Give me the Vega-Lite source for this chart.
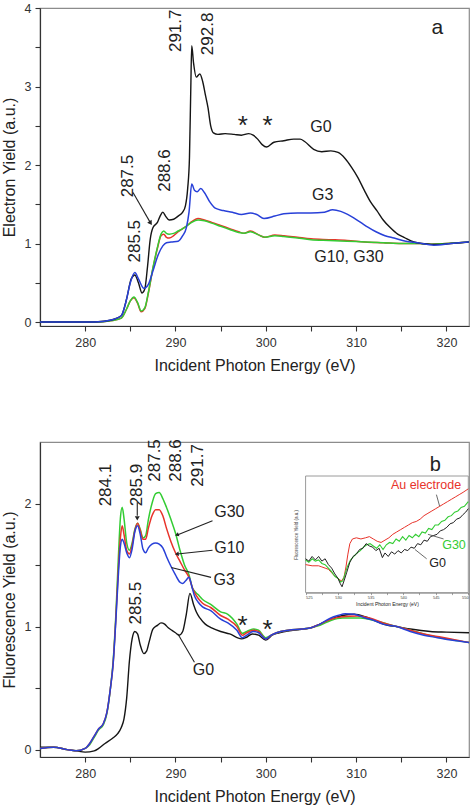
{
  "$schema": "https://vega.github.io/schema/vega-lite/v6.json",
  "background": "white",
  "padding": {"left": 0, "top": 1, "right": 3, "bottom": 2},
  "spacing": 63,
  "config": {
    "view": {"stroke": "#8c8c8c", "strokeWidth": 1.2},
    "text": {"font": "Liberation Sans", "color": "#222"},
    "axis": {
      "domainColor": "#333", "tickColor": "#333", "labelColor": "#333", "titleColor": "#222",
      "labelFont": "Liberation Sans", "titleFont": "Liberation Sans",
      "labelFontSize": 12.5, "titleFontSize": 16, "titleFontWeight": "normal",
      "grid": false, "tickSize": 5, "domainWidth": 1.2, "tickWidth": 1.1
    }
  },
  "datasets": {
    "top_g0": [{"E":275,"y":0},{"E":279,"y":0},{"E":281,"y":0.0},{"E":282,"y":0.01},{"E":283,"y":0.03},{"E":284,"y":0.08},{"E":284.6,"y":0.3},{"E":285.1,"y":0.55},{"E":285.5,"y":0.6},{"E":285.9,"y":0.5},{"E":286.3,"y":0.37},{"E":286.6,"y":0.42},{"E":286.9,"y":0.7},{"E":287.2,"y":1.05},{"E":287.5,"y":1.2},{"E":288.0,"y":1.27},{"E":288.3,"y":1.35},{"E":288.6,"y":1.4},{"E":288.9,"y":1.35},{"E":289.3,"y":1.3},{"E":289.8,"y":1.31},{"E":290.3,"y":1.35},{"E":290.8,"y":1.4},{"E":291.1,"y":1.48},{"E":291.35,"y":1.7},{"E":291.55,"y":2.1},{"E":291.7,"y":3.0},{"E":291.8,"y":3.52},{"E":292.0,"y":3.3},{"E":292.3,"y":3.12},{"E":292.7,"y":3.16},{"E":293.0,"y":3.07},{"E":293.3,"y":2.9},{"E":293.6,"y":2.73},{"E":293.9,"y":2.5},{"E":294.2,"y":2.41},{"E":294.7,"y":2.39},{"E":295.5,"y":2.4},{"E":296.5,"y":2.39},{"E":297.3,"y":2.38},{"E":298.1,"y":2.4},{"E":298.6,"y":2.38},{"E":299.1,"y":2.33},{"E":299.6,"y":2.26},{"E":300.1,"y":2.23},{"E":300.9,"y":2.29},{"E":302,"y":2.31},{"E":303.1,"y":2.33},{"E":303.8,"y":2.33},{"E":304.3,"y":2.3},{"E":305.3,"y":2.2},{"E":306.2,"y":2.17},{"E":307.2,"y":2.18},{"E":308.0,"y":2.16},{"E":308.8,"y":2.08},{"E":309.5,"y":1.97},{"E":310.2,"y":1.84},{"E":310.9,"y":1.68},{"E":311.6,"y":1.53},{"E":312.3,"y":1.42},{"E":313.0,"y":1.3},{"E":313.8,"y":1.2},{"E":314.6,"y":1.12},{"E":315.3,"y":1.08},{"E":316.4,"y":1.02},{"E":317.3,"y":1.0},{"E":318.3,"y":0.99},{"E":319.3,"y":0.99},{"E":320.5,"y":1.0},{"E":321.5,"y":1.01},{"E":322.5,"y":1.02}],
    "top_g3": [{"E":275,"y":0},{"E":281,"y":0},{"E":283,"y":0.03},{"E":284,"y":0.08},{"E":284.5,"y":0.25},{"E":285.0,"y":0.5},{"E":285.5,"y":0.63},{"E":285.9,"y":0.55},{"E":286.5,"y":0.43},{"E":287.0,"y":0.48},{"E":287.5,"y":0.65},{"E":288.1,"y":0.86},{"E":288.6,"y":0.97},{"E":289.0,"y":1.01},{"E":289.5,"y":1.02},{"E":290.3,"y":1.03},{"E":290.8,"y":1.1},{"E":291.2,"y":1.2},{"E":291.5,"y":1.4},{"E":291.8,"y":1.76},{"E":292.1,"y":1.68},{"E":292.4,"y":1.66},{"E":292.8,"y":1.7},{"E":293.2,"y":1.65},{"E":293.8,"y":1.53},{"E":294.4,"y":1.45},{"E":295.3,"y":1.42},{"E":296.3,"y":1.4},{"E":297.3,"y":1.37},{"E":298.3,"y":1.39},{"E":299.0,"y":1.37},{"E":299.8,"y":1.32},{"E":301,"y":1.35},{"E":302,"y":1.38},{"E":303.5,"y":1.39},{"E":305,"y":1.39},{"E":306.5,"y":1.4},{"E":307.4,"y":1.43},{"E":308.3,"y":1.41},{"E":309.4,"y":1.35},{"E":310.5,"y":1.27},{"E":311.3,"y":1.21},{"E":312.2,"y":1.15},{"E":313.2,"y":1.1},{"E":314.2,"y":1.07},{"E":315.5,"y":1.03},{"E":316.8,"y":1.01},{"E":318.6,"y":0.98},{"E":320.5,"y":1.0},{"E":322.5,"y":1.02}],
    "top_g10": [{"E":275,"y":0},{"E":281,"y":0},{"E":283,"y":0.02},{"E":284,"y":0.05},{"E":284.6,"y":0.17},{"E":285.0,"y":0.27},{"E":285.4,"y":0.31},{"E":285.8,"y":0.24},{"E":286.2,"y":0.13},{"E":286.6,"y":0.17},{"E":287.0,"y":0.37},{"E":287.5,"y":0.68},{"E":288.0,"y":0.94},{"E":288.4,"y":1.1},{"E":288.7,"y":1.12},{"E":289.0,"y":1.08},{"E":289.3,"y":1.07},{"E":289.8,"y":1.1},{"E":290.3,"y":1.15},{"E":290.8,"y":1.19},{"E":291.3,"y":1.23},{"E":291.8,"y":1.28},{"E":292.5,"y":1.32},{"E":293.2,"y":1.3},{"E":294,"y":1.27},{"E":295,"y":1.23},{"E":296,"y":1.19},{"E":297,"y":1.15},{"E":297.6,"y":1.13},{"E":298.3,"y":1.16},{"E":299.2,"y":1.11},{"E":299.9,"y":1.08},{"E":301,"y":1.11},{"E":302,"y":1.1},{"E":303.5,"y":1.08},{"E":305,"y":1.06},{"E":307,"y":1.05},{"E":309,"y":1.04},{"E":311,"y":1.02},{"E":313,"y":1.01},{"E":315,"y":1.0},{"E":317,"y":1.0},{"E":318.5,"y":0.99},{"E":320,"y":1.0},{"E":322.5,"y":1.02}],
    "top_g30": [{"E":275,"y":0},{"E":281,"y":0},{"E":283,"y":0.02},{"E":284,"y":0.05},{"E":284.6,"y":0.17},{"E":285.0,"y":0.27},{"E":285.4,"y":0.32},{"E":285.8,"y":0.25},{"E":286.2,"y":0.14},{"E":286.6,"y":0.18},{"E":287.0,"y":0.38},{"E":287.5,"y":0.69},{"E":288.0,"y":0.95},{"E":288.4,"y":1.12},{"E":288.7,"y":1.16},{"E":289.0,"y":1.13},{"E":289.3,"y":1.12},{"E":289.8,"y":1.13},{"E":290.3,"y":1.16},{"E":290.8,"y":1.19},{"E":291.3,"y":1.23},{"E":291.8,"y":1.27},{"E":292.5,"y":1.3},{"E":293.2,"y":1.29},{"E":294,"y":1.26},{"E":295,"y":1.22},{"E":296,"y":1.18},{"E":297,"y":1.14},{"E":297.6,"y":1.13},{"E":298.3,"y":1.15},{"E":299.2,"y":1.11},{"E":299.9,"y":1.08},{"E":301,"y":1.1},{"E":302,"y":1.09},{"E":303.5,"y":1.07},{"E":305,"y":1.05},{"E":307,"y":1.04},{"E":309,"y":1.03},{"E":311,"y":1.02},{"E":313,"y":1.01},{"E":315,"y":1.0},{"E":317,"y":1.0},{"E":318.5,"y":0.99},{"E":320,"y":1.0},{"E":322.5,"y":1.02}],
    "top_nums": [{"E":290.08,"y":3.71,"t":"291.7"},{"E":293.65,"y":3.67,"t":"292.8"},{"E":284.75,"y":1.86,"t":"287.5"},{"E":288.8,"y":1.93,"t":"288.6"},{"E":285.49,"y":1.03,"t":"285.5"}],
    "top_labels": [{"E":306.1,"y":2.49,"t":"G0"},{"E":306.3,"y":1.62,"t":"G3"},{"E":309.2,"y":0.83,"t":"G10, G30"}],
    "top_a": [{"E":319.0,"y":3.75,"t":"a"}],
    "top_stars": [{"E":297.45,"y":2.59,"t":"*"},{"E":300.2,"y":2.59,"t":"*"}],
    "top_arrow": [{"E":285.3,"y":1.65,"E2":287.2,"y2":1.27}],
    "top_head": [{"E":287.25,"y":1.26}],
    "bot_g0": [{"E":275,"y":0.02},{"E":276.5,"y":0.02},{"E":278,"y":0.0},{"E":279,"y":-0.01},{"E":280,"y":-0.02},{"E":281,"y":-0.01},{"E":281.5,"y":0.01},{"E":282.2,"y":0.05},{"E":283,"y":0.09},{"E":283.6,"y":0.13},{"E":284.0,"y":0.18},{"E":284.3,"y":0.25},{"E":284.6,"y":0.42},{"E":284.9,"y":0.72},{"E":285.2,"y":0.9},{"E":285.5,"y":0.96},{"E":285.8,"y":0.94},{"E":286.1,"y":0.85},{"E":286.5,"y":0.78},{"E":286.8,"y":0.8},{"E":287.1,"y":0.88},{"E":287.5,"y":0.98},{"E":288.0,"y":1.01},{"E":288.4,"y":1.03},{"E":288.8,"y":1.02},{"E":289.2,"y":0.99},{"E":289.6,"y":0.97},{"E":290.0,"y":0.95},{"E":290.4,"y":0.93},{"E":290.8,"y":0.96},{"E":291.2,"y":1.1},{"E":291.6,"y":1.27},{"E":292.0,"y":1.18},{"E":292.3,"y":1.12},{"E":292.7,"y":1.07},{"E":293.3,"y":1.02},{"E":294,"y":0.99},{"E":295,"y":0.96},{"E":296,"y":0.94},{"E":297.3,"y":0.9},{"E":297.8,"y":0.91},{"E":298.5,"y":0.94},{"E":299.2,"y":0.93},{"E":300,"y":0.89},{"E":300.7,"y":0.93},{"E":301.5,"y":0.95},{"E":303,"y":0.97},{"E":305,"y":0.99},{"E":306,"y":1.02},{"E":307.2,"y":1.06},{"E":308.5,"y":1.09},{"E":309.8,"y":1.1},{"E":311,"y":1.08},{"E":312.3,"y":1.04},{"E":313.5,"y":1.01},{"E":314.5,"y":1.0},{"E":316,"y":0.98},{"E":318.2,"y":0.96},{"E":320,"y":0.955},{"E":322.5,"y":0.95}],
    "bot_g3": [{"E":275,"y":0.01},{"E":276.5,"y":0.02},{"E":278,"y":0.0},{"E":279,"y":-0.01},{"E":280,"y":0.01},{"E":280.5,"y":0.05},{"E":281,"y":0.11},{"E":281.5,"y":0.17},{"E":282,"y":0.21},{"E":282.4,"y":0.3},{"E":282.8,"y":0.5},{"E":283.1,"y":0.7},{"E":283.4,"y":1.05},{"E":283.7,"y":1.45},{"E":283.9,"y":1.65},{"E":284.1,"y":1.71},{"E":284.3,"y":1.68},{"E":284.6,"y":1.6},{"E":284.9,"y":1.56},{"E":285.2,"y":1.63},{"E":285.5,"y":1.77},{"E":285.8,"y":1.82},{"E":286.1,"y":1.75},{"E":286.4,"y":1.63},{"E":286.7,"y":1.6},{"E":287.0,"y":1.64},{"E":287.4,"y":1.67},{"E":287.8,"y":1.68},{"E":288.2,"y":1.67},{"E":288.6,"y":1.64},{"E":289.0,"y":1.57},{"E":289.5,"y":1.49},{"E":290.0,"y":1.42},{"E":290.5,"y":1.36},{"E":290.8,"y":1.35},{"E":291.1,"y":1.37},{"E":291.5,"y":1.4},{"E":291.8,"y":1.33},{"E":292.1,"y":1.25},{"E":292.5,"y":1.2},{"E":293.0,"y":1.16},{"E":293.9,"y":1.13},{"E":295.0,"y":1.06},{"E":295.8,"y":1.03},{"E":296.8,"y":0.97},{"E":297.4,"y":0.91},{"E":297.9,"y":0.93},{"E":298.6,"y":0.96},{"E":299.2,"y":0.95},{"E":300.0,"y":0.9},{"E":300.6,"y":0.93},{"E":301.2,"y":0.95},{"E":302.5,"y":0.97},{"E":304,"y":0.98},{"E":305,"y":0.99},{"E":306,"y":1.02},{"E":307.2,"y":1.07},{"E":308,"y":1.09},{"E":308.8,"y":1.105},{"E":309.8,"y":1.1},{"E":311,"y":1.07},{"E":312,"y":1.05},{"E":313,"y":1.02},{"E":314.5,"y":1.0},{"E":316,"y":0.96},{"E":317.5,"y":0.93},{"E":319,"y":0.91},{"E":320.5,"y":0.89},{"E":322.5,"y":0.87}],
    "bot_g10": [{"E":275,"y":0.01},{"E":276.5,"y":0.02},{"E":278,"y":0.0},{"E":279,"y":-0.01},{"E":280,"y":0.01},{"E":280.5,"y":0.05},{"E":281,"y":0.11},{"E":281.5,"y":0.17},{"E":282,"y":0.21},{"E":282.4,"y":0.3},{"E":282.8,"y":0.5},{"E":283.1,"y":0.7},{"E":283.4,"y":1.07},{"E":283.7,"y":1.5},{"E":283.9,"y":1.72},{"E":284.1,"y":1.82},{"E":284.3,"y":1.75},{"E":284.6,"y":1.62},{"E":284.9,"y":1.59},{"E":285.2,"y":1.66},{"E":285.5,"y":1.78},{"E":285.8,"y":1.84},{"E":286.1,"y":1.78},{"E":286.4,"y":1.71},{"E":286.7,"y":1.71},{"E":287.0,"y":1.8},{"E":287.4,"y":1.9},{"E":287.8,"y":1.95},{"E":288.2,"y":1.95},{"E":288.6,"y":1.9},{"E":289.0,"y":1.8},{"E":289.5,"y":1.69},{"E":290.0,"y":1.6},{"E":290.5,"y":1.53},{"E":291.0,"y":1.46},{"E":291.5,"y":1.4},{"E":291.9,"y":1.31},{"E":292.5,"y":1.23},{"E":293.0,"y":1.19},{"E":293.9,"y":1.155},{"E":295.0,"y":1.09},{"E":295.8,"y":1.06},{"E":296.8,"y":1.0},{"E":297.4,"y":0.93},{"E":297.9,"y":0.95},{"E":298.6,"y":0.97},{"E":299.2,"y":0.96},{"E":300.0,"y":0.9},{"E":300.6,"y":0.93},{"E":301.2,"y":0.95},{"E":302.5,"y":0.97},{"E":304,"y":0.98},{"E":305,"y":0.99},{"E":306,"y":1.02},{"E":307.2,"y":1.06},{"E":308.5,"y":1.08},{"E":310.1,"y":1.085},{"E":311.5,"y":1.07},{"E":313,"y":1.03},{"E":314.5,"y":1.0},{"E":316,"y":0.97},{"E":317.5,"y":0.94},{"E":319,"y":0.92},{"E":320.5,"y":0.9},{"E":322.5,"y":0.87}],
    "bot_g30": [{"E":275,"y":0.01},{"E":276.5,"y":0.02},{"E":278,"y":0.0},{"E":279,"y":-0.01},{"E":280,"y":0.01},{"E":280.5,"y":0.04},{"E":281,"y":0.1},{"E":281.5,"y":0.16},{"E":282,"y":0.2},{"E":282.4,"y":0.29},{"E":282.8,"y":0.5},{"E":283.1,"y":0.72},{"E":283.4,"y":1.1},{"E":283.7,"y":1.6},{"E":283.9,"y":1.88},{"E":284.1,"y":1.97},{"E":284.3,"y":1.88},{"E":284.6,"y":1.68},{"E":284.9,"y":1.62},{"E":285.2,"y":1.68},{"E":285.5,"y":1.79},{"E":285.8,"y":1.84},{"E":286.1,"y":1.79},{"E":286.4,"y":1.72},{"E":286.7,"y":1.74},{"E":287.0,"y":1.87},{"E":287.4,"y":2.0},{"E":287.8,"y":2.08},{"E":288.2,"y":2.09},{"E":288.6,"y":2.04},{"E":289.0,"y":1.97},{"E":289.5,"y":1.87},{"E":290.0,"y":1.76},{"E":290.5,"y":1.62},{"E":291.0,"y":1.5},{"E":291.5,"y":1.42},{"E":291.9,"y":1.31},{"E":292.5,"y":1.26},{"E":293.0,"y":1.22},{"E":293.9,"y":1.18},{"E":295.0,"y":1.12},{"E":295.8,"y":1.1},{"E":296.8,"y":1.02},{"E":297.4,"y":0.945},{"E":297.9,"y":0.96},{"E":298.6,"y":0.98},{"E":299.2,"y":0.97},{"E":300.0,"y":0.91},{"E":300.6,"y":0.93},{"E":301.2,"y":0.95},{"E":302.5,"y":0.97},{"E":304,"y":0.98},{"E":305,"y":0.99},{"E":306,"y":1.01},{"E":307.2,"y":1.05},{"E":308.5,"y":1.07},{"E":310.5,"y":1.07},{"E":312,"y":1.05},{"E":313.5,"y":1.02},{"E":315,"y":0.99},{"E":316.5,"y":0.96},{"E":318,"y":0.93},{"E":320,"y":0.9},{"E":322.5,"y":0.87}],
    "bot_nums": [{"E":282.35,"y":2.15,"t":"284.1"},{"E":285.77,"y":2.15,"t":"285.9"},{"E":287.69,"y":2.35,"t":"287.5"},{"E":290.08,"y":2.35,"t":"288.6"},{"E":292.47,"y":2.31,"t":"291.7"},{"E":285.66,"y":1.19,"t":"285.5"}],
    "bot_labels": [{"E":295.97,"y":1.93,"t":"G30"},{"E":295.97,"y":1.64,"t":"G10"},{"E":295.4,"y":1.38,"t":"G3"},{"E":293.1,"y":0.65,"t":"G0"}],
    "bot_stars": [{"E":297.44,"y":1.06,"t":"*"},{"E":300.2,"y":1.03,"t":"*"}],
    "bot_b": [{"E":318.77,"y":2.31,"t":"b"}],
    "bot_leaders": [{"E":294.1,"y":1.86,"E2":290.2,"y2":1.745},{"E":294.1,"y":1.62,"E2":290.2,"y2":1.59},{"E":293.94,"y":1.4,"E2":289.53,"y2":1.48},{"E":292.1,"y":0.71,"E2":290.27,"y2":0.94},{"E":285.77,"y":2.01,"E2":285.77,"y2":1.9}],
    "bot_head_down": [{"E":285.77,"y":1.88}],
    "bot_head_g30": [{"E":290.15,"y":1.745}],
    "bot_head_g10": [{"E":290.15,"y":1.59}],
    "inset_frame": [{"E":525,"E2":550,"y":0,"y2":1}],
    "inset_au": [{"E":525,"y":0.24},{"E":526,"y":0.23},{"E":527,"y":0.23},{"E":527.5,"y":0.22},{"E":528,"y":0.21},{"E":528.5,"y":0.2},{"E":529,"y":0.17},{"E":529.5,"y":0.14},{"E":530,"y":0.12},{"E":530.5,"y":0.1},{"E":530.9,"y":0.13},{"E":531.2,"y":0.22},{"E":531.5,"y":0.33},{"E":531.8,"y":0.42},{"E":532.2,"y":0.46},{"E":532.8,"y":0.47},{"E":533.5,"y":0.46},{"E":534.2,"y":0.47},{"E":534.8,"y":0.48},{"E":535.4,"y":0.46},{"E":536,"y":0.44},{"E":536.6,"y":0.43},{"E":537.2,"y":0.45},{"E":537.8,"y":0.47},{"E":538.4,"y":0.5},{"E":539,"y":0.52},{"E":539.6,"y":0.54},{"E":540.2,"y":0.56},{"E":540.8,"y":0.58},{"E":541.4,"y":0.6},{"E":542,"y":0.61},{"E":542.6,"y":0.63},{"E":543.2,"y":0.66},{"E":543.8,"y":0.68},{"E":544.4,"y":0.7},{"E":545,"y":0.72},{"E":545.6,"y":0.74},{"E":546.2,"y":0.76},{"E":546.8,"y":0.78},{"E":547.4,"y":0.8},{"E":548,"y":0.82},{"E":548.6,"y":0.84},{"E":549.2,"y":0.86},{"E":550,"y":0.89}],
    "inset_g30": [{"E":525,"y":0.28},{"E":525.5,"y":0.26},{"E":526,"y":0.29},{"E":526.5,"y":0.27},{"E":527,"y":0.28},{"E":527.5,"y":0.25},{"E":528,"y":0.24},{"E":528.5,"y":0.21},{"E":529,"y":0.18},{"E":529.5,"y":0.14},{"E":530,"y":0.12},{"E":530.4,"y":0.09},{"E":530.7,"y":0.1},{"E":531,"y":0.15},{"E":531.4,"y":0.22},{"E":531.9,"y":0.28},{"E":532.4,"y":0.31},{"E":532.9,"y":0.34},{"E":533.4,"y":0.36},{"E":533.9,"y":0.39},{"E":534.4,"y":0.41},{"E":534.9,"y":0.42},{"E":535.4,"y":0.4},{"E":535.9,"y":0.38},{"E":536.4,"y":0.41},{"E":536.9,"y":0.37},{"E":537.4,"y":0.41},{"E":537.9,"y":0.43},{"E":538.4,"y":0.42},{"E":538.9,"y":0.46},{"E":539.4,"y":0.44},{"E":539.9,"y":0.48},{"E":540.4,"y":0.45},{"E":540.9,"y":0.49},{"E":541.4,"y":0.47},{"E":541.9,"y":0.5},{"E":542.4,"y":0.48},{"E":542.9,"y":0.52},{"E":543.4,"y":0.51},{"E":543.9,"y":0.55},{"E":544.4,"y":0.54},{"E":544.9,"y":0.58},{"E":545.4,"y":0.58},{"E":545.9,"y":0.61},{"E":546.4,"y":0.62},{"E":546.9,"y":0.65},{"E":547.4,"y":0.66},{"E":547.9,"y":0.69},{"E":548.4,"y":0.7},{"E":548.9,"y":0.73},{"E":549.4,"y":0.74},{"E":550,"y":0.78}],
    "inset_g0": [{"E":525,"y":0.29},{"E":525.5,"y":0.27},{"E":526,"y":0.31},{"E":526.5,"y":0.28},{"E":527,"y":0.31},{"E":527.5,"y":0.27},{"E":528,"y":0.29},{"E":528.5,"y":0.24},{"E":529,"y":0.21},{"E":529.5,"y":0.16},{"E":530,"y":0.12},{"E":530.3,"y":0.08},{"E":530.6,"y":0.05},{"E":530.9,"y":0.1},{"E":531.3,"y":0.17},{"E":531.8,"y":0.26},{"E":532.3,"y":0.31},{"E":532.8,"y":0.33},{"E":533.3,"y":0.37},{"E":533.8,"y":0.38},{"E":534.3,"y":0.42},{"E":534.8,"y":0.4},{"E":535.3,"y":0.39},{"E":535.8,"y":0.36},{"E":536.3,"y":0.38},{"E":536.8,"y":0.3},{"E":537.2,"y":0.34},{"E":537.7,"y":0.31},{"E":538.2,"y":0.35},{"E":538.7,"y":0.33},{"E":539.2,"y":0.36},{"E":539.7,"y":0.34},{"E":540.2,"y":0.37},{"E":540.7,"y":0.36},{"E":541.2,"y":0.39},{"E":541.7,"y":0.38},{"E":542.2,"y":0.42},{"E":542.7,"y":0.41},{"E":543.2,"y":0.45},{"E":543.7,"y":0.44},{"E":544.2,"y":0.48},{"E":544.7,"y":0.49},{"E":545.2,"y":0.5},{"E":545.7,"y":0.53},{"E":546.2,"y":0.54},{"E":546.7,"y":0.56},{"E":547.2,"y":0.59},{"E":547.7,"y":0.6},{"E":548.2,"y":0.63},{"E":548.7,"y":0.64},{"E":549.2,"y":0.67},{"E":549.6,"y":0.69},{"E":550,"y":0.72}],
    "inset_labels": [{"E":543.5,"y":0.92,"t":"Au electrode","s":"Au"},{"E":547.8,"y":0.41,"t":"G30","s":"G30"},{"E":545.3,"y":0.25,"t":"G0","s":"G0"}],
    "inset_leaders": [{"E":545.1,"y":0.84,"E2":545.6,"y2":0.74},{"E":546.2,"y":0.46,"E2":543.8,"y2":0.5},{"E":543.6,"y":0.29,"E2":541.8,"y2":0.37}]
  },
  "vconcat": [
    {
      "width": 429, "height": 318,
      "encoding": {
        "x": {"field": "E", "type": "quantitative", "scale": {"domain": [275, 322.5], "nice": false, "zero": false},
              "axis": {"title": "Incident Photon Energy (eV)", "values": [280,285,290,295,300,305,310,315,320], "labelExpr": "datum.value % 10 === 0 ? format(datum.value, 'd') : ''", "labelPadding": 5, "titlePadding": 9}},
        "y": {"field": "y", "type": "quantitative", "scale": {"domain": [-0.05, 4], "nice": false, "zero": false},
              "axis": {"title": "Electron Yield (a.u.)", "values": [0,0.5,1,1.5,2,2.5,3,3.5,4], "labelExpr": "datum.value % 1 === 0 ? format(datum.value, 'd') : ''", "labelPadding": 4, "titlePadding": 7}}
      },
      "layer": [
        {"data": {"name": "top_g10"}, "mark": {"type": "line", "color": "#e8332a", "strokeWidth": 1.5, "interpolate": "monotone"}},
        {"data": {"name": "top_g30"}, "mark": {"type": "line", "color": "#33cc33", "strokeWidth": 1.5, "interpolate": "monotone"}},
        {"data": {"name": "top_g0"}, "mark": {"type": "line", "color": "#151515", "strokeWidth": 1.4, "interpolate": "monotone"}},
        {"data": {"name": "top_g3"}, "mark": {"type": "line", "color": "#2840d8", "strokeWidth": 1.5, "interpolate": "monotone"}},
        {"data": {"name": "top_nums"}, "mark": {"type": "text", "angle": 270, "fontSize": 17, "align": "center", "baseline": "middle"}, "encoding": {"text": {"field": "t"}}},
        {"data": {"name": "top_labels"}, "mark": {"type": "text", "fontSize": 16, "align": "center", "baseline": "middle"}, "encoding": {"text": {"field": "t"}}},
        {"data": {"name": "top_a"}, "mark": {"type": "text", "fontSize": 21, "align": "center", "baseline": "middle"}, "encoding": {"text": {"field": "t"}}},
        {"data": {"name": "top_stars"}, "mark": {"type": "text", "fontSize": 26, "align": "center", "baseline": "middle", "dy": 7}, "encoding": {"text": {"field": "t"}}},
        {"data": {"name": "top_arrow"}, "mark": {"type": "rule", "color": "#222", "strokeWidth": 1.1}, "encoding": {"x2": {"field": "E2"}, "y2": {"field": "y2"}}},
        {"data": {"name": "top_head"}, "mark": {"type": "point", "shape": "triangle-up", "filled": true, "size": 28, "angle": 147, "color": "#222", "opacity": 1}}
      ]
    },
    {
      "width": 429, "height": 315,
      "layer": [
        {
          "encoding": {
            "x": {"field": "E", "type": "quantitative", "scale": {"domain": [275, 322.5], "nice": false, "zero": false},
                  "axis": {"orient": "bottom", "title": "Incident Photon Energy (eV)", "values": [280,285,290,295,300,305,310,315,320], "labelExpr": "datum.value % 10 === 0 ? format(datum.value, 'd') : ''", "labelPadding": 5, "titlePadding": 9}},
            "y": {"field": "y", "type": "quantitative", "scale": {"domain": [-0.06, 2.5], "nice": false, "zero": false},
                  "axis": {"orient": "left", "title": "Fluorescence Yield (a.u.)", "values": [0,0.5,1,1.5,2], "labelExpr": "datum.value % 1 === 0 ? format(datum.value, 'd') : ''", "labelPadding": 4, "titlePadding": 7}}
          },
          "layer": [
            {"data": {"name": "bot_g0"}, "mark": {"type": "line", "color": "#151515", "strokeWidth": 1.4, "interpolate": "monotone"}},
            {"data": {"name": "bot_g30"}, "mark": {"type": "line", "color": "#33cc33", "strokeWidth": 1.5, "interpolate": "monotone"}},
            {"data": {"name": "bot_g10"}, "mark": {"type": "line", "color": "#e8332a", "strokeWidth": 1.5, "interpolate": "monotone"}},
            {"data": {"name": "bot_g3"}, "mark": {"type": "line", "color": "#2840d8", "strokeWidth": 1.5, "interpolate": "monotone"}},
            {"data": {"name": "bot_nums"}, "mark": {"type": "text", "angle": 270, "fontSize": 17, "align": "center", "baseline": "middle"}, "encoding": {"text": {"field": "t"}}},
            {"data": {"name": "bot_labels"}, "mark": {"type": "text", "fontSize": 16, "align": "center", "baseline": "middle"}, "encoding": {"text": {"field": "t"}}},
            {"data": {"name": "bot_stars"}, "mark": {"type": "text", "fontSize": 26, "align": "center", "baseline": "middle", "dy": 7}, "encoding": {"text": {"field": "t"}}},
            {"data": {"name": "bot_b"}, "mark": {"type": "text", "fontSize": 20, "align": "center", "baseline": "middle"}, "encoding": {"text": {"field": "t"}}},
            {"data": {"name": "bot_leaders"}, "mark": {"type": "rule", "color": "#222", "strokeWidth": 1.1}, "encoding": {"x2": {"field": "E2"}, "y2": {"field": "y2"}}},
            {"data": {"name": "bot_head_down"}, "mark": {"type": "point", "shape": "triangle-up", "filled": true, "size": 24, "angle": 180, "color": "#222", "opacity": 1}},
            {"data": {"name": "bot_head_g30"}, "mark": {"type": "point", "shape": "triangle-up", "filled": true, "size": 20, "angle": 250, "color": "#222", "opacity": 1}},
            {"data": {"name": "bot_head_g10"}, "mark": {"type": "point", "shape": "triangle-up", "filled": true, "size": 20, "angle": 263, "color": "#222", "opacity": 1}}
          ]
        },
        {
          "encoding": {
            "x": {"field": "E", "type": "quantitative", "scale": {"domain": [525, 550], "nice": false, "zero": false, "range": [265.6, 428.3]},
                  "axis": {"orient": "bottom", "offset": -164.4, "title": "Incident Photon Energy (eV)", "titleFontSize": 5, "titlePadding": 2, "values": [525,527.5,530,532.5,535,537.5,540,542.5,545,547.5,550], "labelExpr": "datum.value % 5 === 0 ? format(datum.value, 'd') : ''", "labelFontSize": 4, "labelPadding": 1, "tickSize": 2, "tickWidth": 0.6, "domainWidth": 0.8, "domainColor": "#666", "tickColor": "#666", "labelColor": "#444"}},
            "y": {"field": "y", "type": "quantitative", "scale": {"domain": [0, 1], "nice": false, "zero": false, "range": [150.6, 34]},
                  "axis": {"orient": "left", "offset": -265.6, "title": "Fluorescence Yield (a.u.)", "titleFontSize": 4.5, "titlePadding": 7, "labels": false, "ticks": false, "domain": false, "titleColor": "#444"}}
          },
          "layer": [
            {"data": {"name": "inset_frame"}, "mark": {"type": "rect", "fill": "white", "stroke": "#9a9a9a", "strokeWidth": 1}, "encoding": {"x2": {"field": "E2"}, "y2": {"field": "y2"}}},
            {"data": {"name": "inset_au"}, "mark": {"type": "line", "color": "#e8332a", "strokeWidth": 1}},
            {"data": {"name": "inset_g30"}, "mark": {"type": "line", "color": "#33cc33", "strokeWidth": 1.1}},
            {"data": {"name": "inset_g0"}, "mark": {"type": "line", "color": "#222", "strokeWidth": 1}},
            {"data": {"name": "inset_leaders"}, "mark": {"type": "rule", "color": "#444", "strokeWidth": 0.8}, "encoding": {"x2": {"field": "E2"}, "y2": {"field": "y2"}}},
            {"data": {"name": "inset_labels"}, "mark": {"type": "text", "fontSize": 12.5, "align": "center", "baseline": "middle"},
             "encoding": {"text": {"field": "t"}, "color": {"field": "s", "type": "nominal", "scale": {"domain": ["Au", "G30", "G0"], "range": ["#e8332a", "#33cc33", "#222222"]}, "legend": null}}}
          ]
        }
      ],
      "resolve": {"scale": {"x": "independent", "y": "independent"}, "axis": {"x": "independent", "y": "independent"}}
    }
  ]
}
